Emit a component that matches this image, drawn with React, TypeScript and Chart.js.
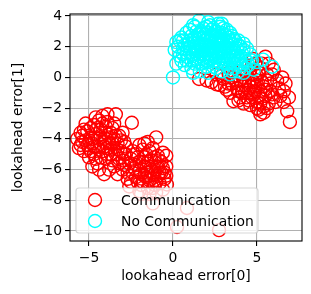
import React, { useEffect, useRef } from "react";
import { Chart, registerables } from "chart.js";

Chart.register(...registerables);

const seriesLabels = ["Communication", "No Communication"];
const seriesColors = ["#ff0000", "#00ffff"];
const xTicks = [-5, 0, 5];
const yTicks = [-10, -8, -6, -4, -2, 0, 2, 4];
const xRange = [-6.13, 7.68];
const yRange = [-10.65, 4.13];
const xTitle = "lookahead error[0]";
const yTitle = "lookahead error[1]";

const communication: [number, number][] = [
  // upper-right cluster
  [1.55, -0.1], [2.0, -0.2], [2.3, -0.3], [2.6, 0.2], [2.6, -0.45], [2.8, -0.5], [3.0, -0.1], [3.1, -0.6],
  [3.2, -0.8], [3.3, 0.3], [3.4, -1.0], [3.5, -0.4], [3.6, -1.55], [3.7, 0.1], [3.8, -0.7], [3.9, -1.5],
  [4.0, 0.4], [4.0, -0.2], [4.1, -1.0], [4.2, 0.8], [4.2, -1.7], [4.3, -0.5], [4.4, -1.3], [4.4, 0.2],
  [4.5, -0.8], [4.6, -1.8], [4.6, 0.5], [4.7, -0.2], [4.8, -1.1], [4.8, 1.2], [4.9, 0.9], [4.9, -0.6],
  [5.0, -1.6], [5.0, 0.1], [5.0, -2.0], [5.1, -2.1], [5.2, -0.9], [5.2, 0.6], [5.2, -2.4], [5.3, -0.3],
  [5.3, -1.4], [5.4, -2.3], [5.4, -1.9], [5.5, 1.35], [5.5, -0.8], [5.6, 0.2], [5.7, 0.9], [5.7, -1.7],
  [5.8, -0.4], [5.9, -1.1], [6.0, 0.5], [6.1, -1.6], [6.2, -0.2], [6.3, -0.7], [6.5, 0.0], [6.6, -0.9],
  [6.6, -1.6], [6.8, -2.2], [6.9, -1.3], [6.96, -2.9],
  [3.5, 0.0], [3.8, -0.2], [3.9, -0.9], [4.1, -0.5], [4.2, 0.0], [4.3, -1.0], [4.5, -0.3], [4.5, -1.5],
  [4.6, -0.6], [4.7, -1.3], [4.8, -0.3], [4.9, -0.9], [5.0, -0.5], [5.1, -1.2], [5.1, 0.3], [5.2, -1.7],
  [5.3, 0.9], [5.4, -0.6], [5.5, -1.2], [5.6, -0.2], [5.8, -0.9], [6.0, -1.3], [4.0, -1.3], [3.3, -0.4],
  [2.9, 0.1], [4.7, 0.8], [5.9, 0.2], [6.4, -1.2], [6.7, -0.4], [5.6, -2.0],
  // left cluster
  [-5.7, -4.0], [-5.5, -4.4], [-5.4, -3.8], [-5.3, -4.8], [-5.2, -4.1], [-5.2, -3.0], [-5.1, -3.5],
  [-5.0, -4.6], [-5.0, -5.2], [-4.9, -3.9], [-4.8, -4.3], [-4.8, -5.8], [-4.7, -3.1], [-4.7, -5.0],
  [-4.6, -3.7], [-4.6, -2.6], [-4.5, -4.5], [-4.5, -5.6], [-4.4, -2.8], [-4.4, -4.0], [-4.3, -3.4],
  [-4.2, -4.8], [-4.2, -2.5], [-4.1, -4.2], [-4.1, -6.3], [-4.0, -3.6], [-4.0, -5.3], [-3.9, -2.9],
  [-3.9, -4.6], [-3.9, -2.4], [-3.8, -3.9], [-3.8, -6.0], [-3.7, -5.0], [-3.6, -3.3], [-3.6, -4.3],
  [-3.5, -5.8], [-3.4, -2.4], [-3.4, -3.8], [-3.3, -4.7], [-3.3, -6.3], [-3.2, -5.3], [-3.2, -5.6],
  [-3.1, -4.1], [-3.0, -3.6], [-3.0, -6.0], [-2.9, -5.0], [-2.8, -4.5], [-2.45, -2.95],
  [-5.6, -4.6], [-5.4, -4.2], [-5.3, -3.4], [-5.1, -4.4], [-4.9, -4.8], [-4.9, -3.3], [-4.8, -4.0],
  [-4.7, -4.5], [-4.6, -5.3], [-4.5, -3.3], [-4.4, -4.7], [-4.3, -3.9], [-4.3, -5.2], [-4.2, -3.0],
  [-4.1, -4.5], [-4.0, -4.0], [-4.0, -3.2], [-3.9, -5.0], [-3.8, -4.3], [-3.7, -3.6], [-3.7, -4.7],
  [-3.6, -5.4], [-3.5, -4.0], [-3.5, -3.0], [-3.4, -5.0], [-3.3, -4.3], [-3.2, -3.8], [-3.1, -4.8],
  [-3.0, -5.4], [-2.9, -4.2], [-5.5, -3.6], [-4.4, -6.0],
  // lower-middle cluster
  [-2.9, -5.7], [-2.8, -5.0], [-2.7, -6.2], [-2.6, -5.6], [-2.6, -7.1], [-2.5, -6.8], [-2.4, -4.8],
  [-2.3, -5.9], [-2.2, -6.5], [-2.1, -5.2], [-2.0, -4.4], [-2.0, -6.1], [-2.0, -7.4], [-1.9, -7.0],
  [-1.8, -5.5], [-1.8, -4.7], [-1.7, -6.4], [-1.6, -5.0], [-1.6, -5.9], [-1.5, -7.2], [-1.5, -4.2],
  [-1.4, -6.7], [-1.4, -7.6], [-1.3, -5.4], [-1.3, -6.1], [-1.2, -4.6], [-1.2, -8.2], [-1.1, -7.0],
  [-1.0, -5.8], [-1.0, -3.9], [-0.9, -6.4], [-0.9, -5.1], [-0.8, -6.9], [-0.7, -5.5], [-0.7, -6.2],
  [-0.6, -4.9], [-0.6, -7.3], [-0.5, -6.6], [-0.4, -5.8], [-0.36, -6.97],
  [-2.5, -5.3], [-2.4, -6.2], [-2.3, -5.0], [-2.2, -5.7], [-2.1, -6.8], [-2.0, -5.5], [-1.9, -6.3],
  [-1.8, -6.8], [-1.7, -5.2], [-1.7, -5.8], [-1.6, -6.5], [-1.5, -5.5], [-1.5, -6.2], [-1.4, -4.8],
  [-1.3, -6.6], [-1.2, -5.8], [-1.2, -7.2], [-1.1, -5.2], [-1.1, -6.3], [-1.0, -6.8], [-0.9, -5.8],
  [-0.8, -5.4], [-0.8, -6.2], [-0.6, -5.9], [-0.5, -6.2], [-0.4, -6.4], [-2.7, -6.6], [-1.9, -7.6],
  [-1.0, -7.5], [-1.7, -4.3], [-0.4, -5.1],
  // outliers
  [0.83, -8.5], [0.24, -9.74], [2.74, -9.94],
];

const noCommunication: [number, number][] = [
  [0.0, 0.0], [0.2, 0.9], [0.1, 1.8], [0.2, 2.3], [0.3, 2.0], [0.4, 1.4], [0.5, 2.6], [0.5, 1.1],
  [0.6, 1.9], [0.6, 2.4], [0.7, 0.8], [0.8, 2.9], [0.8, 1.6], [0.9, 2.2], [0.9, 1.3], [1.0, 1.6],
  [1.0, 3.1], [1.0, 2.0], [1.1, 0.6], [1.1, 2.7], [1.2, 2.5], [1.2, 1.5], [1.3, 1.9], [1.3, 3.3],
  [1.3, 0.9], [1.4, 1.2], [1.4, 2.2], [1.4, 3.0], [1.5, 2.8], [1.5, 1.7], [1.55, 3.7], [1.6, 2.1],
  [1.6, 0.4], [1.6, 2.9], [1.7, 1.5], [1.7, 1.8], [1.8, 2.6], [1.8, 3.2], [1.8, 1.2], [1.9, 1.0],
  [1.9, 2.0], [1.9, 2.4], [2.0, 2.9], [2.0, 1.6], [2.0, 1.3], [2.0, 0.7], [2.1, 0.3], [2.1, 2.3],
  [2.1, 2.6], [2.2, 3.4], [2.2, 1.2], [2.2, 2.0], [2.3, 1.9], [2.3, 2.8], [2.3, 3.1], [2.4, 2.7],
  [2.4, 0.7], [2.4, 1.7], [2.5, 1.5], [2.5, 3.0], [2.5, 2.0], [2.6, 2.2], [2.6, 2.5], [2.6, 1.3],
  [2.6, 0.6], [2.7, 3.5], [2.7, 1.0], [2.7, 1.6], [2.8, 1.8], [2.8, 2.1], [2.8, 3.3], [2.9, 2.5],
  [2.9, 0.4], [2.9, 2.9], [3.0, 1.4], [3.0, 3.2], [3.0, 1.8], [3.1, 2.0], [3.1, 1.2], [3.2, 0.9],
  [3.2, 2.3], [3.3, 2.6], [3.3, 1.6], [3.3, 0.6], [3.4, 0.2], [3.4, 1.9], [3.4, 2.9], [3.5, 2.2],
  [3.5, 1.1], [3.5, 0.4], [3.6, 1.8], [3.6, 1.3], [3.6, 2.5], [3.7, 0.6], [3.7, 2.4], [3.8, 1.4],
  [3.8, 1.0], [3.9, 2.1], [3.9, 0.4], [4.0, 0.9], [4.0, 2.0], [4.1, 1.6], [4.2, 0.3], [4.3, 1.2],
  [4.3, 0.6], [4.4, 1.9], [4.5, 0.8], [4.6, 1.5], [4.7, 1.1], [4.8, 0.5], [5.0, 1.0], [5.36, 1.16],
  [5.9, 0.7],
  [1.1, 1.1], [1.2, 2.0], [1.3, 2.6], [1.4, 1.6], [1.5, 2.3], [1.5, 1.0], [1.6, 1.4], [1.6, 2.5],
  [1.7, 2.2], [1.7, 3.0], [1.7, 0.9], [1.8, 1.7], [1.9, 2.8], [1.9, 1.5], [2.0, 2.1], [2.0, 3.3],
  [2.1, 1.8], [2.1, 1.0], [2.2, 2.4], [2.2, 1.5], [2.3, 1.2], [2.3, 2.2], [2.4, 2.0], [2.4, 3.2],
  [2.5, 1.1], [2.5, 2.6], [2.6, 1.8], [2.6, 3.0], [2.7, 2.3], [2.7, 1.3], [2.8, 2.7], [2.8, 0.9],
  [2.9, 1.6], [2.9, 2.2], [3.0, 2.5], [3.0, 1.0], [3.1, 1.6], [3.1, 2.8], [3.2, 1.9], [3.2, 1.3],
  [3.3, 2.1], [3.4, 1.4], [3.4, 2.4], [3.5, 1.7], [3.6, 0.9], [3.7, 1.6], [3.8, 1.9], [3.9, 1.2],
  [4.0, 1.4], [4.1, 0.8], [4.2, 1.8], [4.4, 1.0], [0.7, 2.1], [0.4, 2.4], [0.8, 1.1], [1.2, 0.3],
  [1.0, 2.4], [0.6, 1.5], [3.9, 2.4], [3.2, 3.1], [2.1, 3.6], [1.2, 3.4], [2.9, 3.5], [3.5, 2.7],
  [4.2, 2.2],
];

const FONT = "'DejaVu Sans'";
const FS = 13.9;

const framePlugin = {
  id: "frameAndLegend",
  afterDatasetsDraw(chart: any) {
    const { ctx, chartArea: a } = chart;
    ctx.save();
    ctx.strokeStyle = "#000";
    ctx.lineWidth = 1.1;
    ctx.strokeRect(a.left, a.top, a.right - a.left, a.bottom - a.top);
    ctx.restore();
  },
  afterDraw(chart: any) {
    const { ctx } = chart;
    ctx.save();
    const bx = 76, by = 188, bw = 182, bh = 45, r = 3;
    ctx.beginPath();
    ctx.moveTo(bx + r, by);
    ctx.arcTo(bx + bw, by, bx + bw, by + bh, r);
    ctx.arcTo(bx + bw, by + bh, bx, by + bh, r);
    ctx.arcTo(bx, by + bh, bx, by, r);
    ctx.arcTo(bx, by, bx + bw, by, r);
    ctx.closePath();
    ctx.fillStyle = "rgba(255,255,255,0.8)";
    ctx.fill();
    ctx.strokeStyle = "rgba(204,204,204,0.8)";
    ctx.lineWidth = 1.2;
    ctx.stroke();
    seriesLabels.forEach((label, i) => {
      const cy = 200 + i * 21;
      ctx.beginPath();
      ctx.arc(95, cy, 6.5, 0, Math.PI * 2);
      ctx.strokeStyle = seriesColors[i];
      ctx.lineWidth = 1.4;
      ctx.stroke();
      ctx.fillStyle = "#000";
      ctx.font = `${FS}px ${FONT}`;
      ctx.textBaseline = "middle";
      ctx.textAlign = "left";
      ctx.fillText(label, 121, cy + 1);
    });
    ctx.restore();
  },
};

const fmt = (v: number) => String(v).replace("-", "\u2212");

export default function App() {
  const ref = useRef<HTMLCanvasElement>(null);
  useEffect(() => {
    document.body.style.margin = "0";
    const chart = new Chart(ref.current!, {
      type: "scatter",
      data: {
        datasets: [
          {
            label: seriesLabels[1],
            data: noCommunication.map(([x, y]) => ({ x, y })),
            borderColor: seriesColors[1],
            backgroundColor: "rgba(0,0,0,0)",
            pointRadius: 6.5,
            borderWidth: 1.4,
            order: 0,
          },
          {
            label: seriesLabels[0],
            data: communication.map(([x, y]) => ({ x, y })),
            borderColor: seriesColors[0],
            backgroundColor: "rgba(0,0,0,0)",
            pointRadius: 6.5,
            borderWidth: 1.4,
            order: 1,
          },
        ],
      },
      options: {
        animation: false,
        responsive: false,
        layout: { padding: { top: 14, right: 9, left: 0, bottom: 0 } },
        plugins: { legend: { display: false }, tooltip: { enabled: false } },
        scales: {
          x: {
            type: "linear",
            min: xRange[0],
            max: xRange[1],
            afterBuildTicks: (s: any) => { s.ticks = xTicks.map((v) => ({ value: v })); },
            afterFit: (s: any) => { s.height = 53; },
            ticks: { callback: (v: any) => fmt(v), color: "#000", font: { family: FONT, size: FS }, padding: 4, maxRotation: 0 },
            grid: { color: "#b0b0b0", lineWidth: 1.1, tickColor: "#000", tickLength: 5, tickWidth: 1.1 },
            border: { display: false },
            title: { display: true, text: xTitle, color: "#000", font: { family: FONT, size: FS }, padding: { top: 0, bottom: 9 } },
          },
          y: {
            type: "linear",
            min: yRange[0],
            max: yRange[1],
            afterBuildTicks: (s: any) => { s.ticks = yTicks.map((v) => ({ value: v })); },
            afterFit: (s: any) => { s.width = 70; },
            ticks: { callback: (v: any) => fmt(v), color: "#000", font: { family: FONT, size: FS }, padding: 3 },
            grid: { color: "#b0b0b0", lineWidth: 1.1, tickColor: "#000", tickLength: 5, tickWidth: 1.1 },
            border: { display: false },
            title: { display: true, text: yTitle, color: "#000", font: { family: FONT, size: FS }, padding: { top: 10, bottom: 0 } },
          },
        },
      },
      plugins: [framePlugin],
    });
    return () => chart.destroy();
  }, []);
  return <canvas ref={ref} width={311} height={294} style={{ display: "block" }} />;
}
